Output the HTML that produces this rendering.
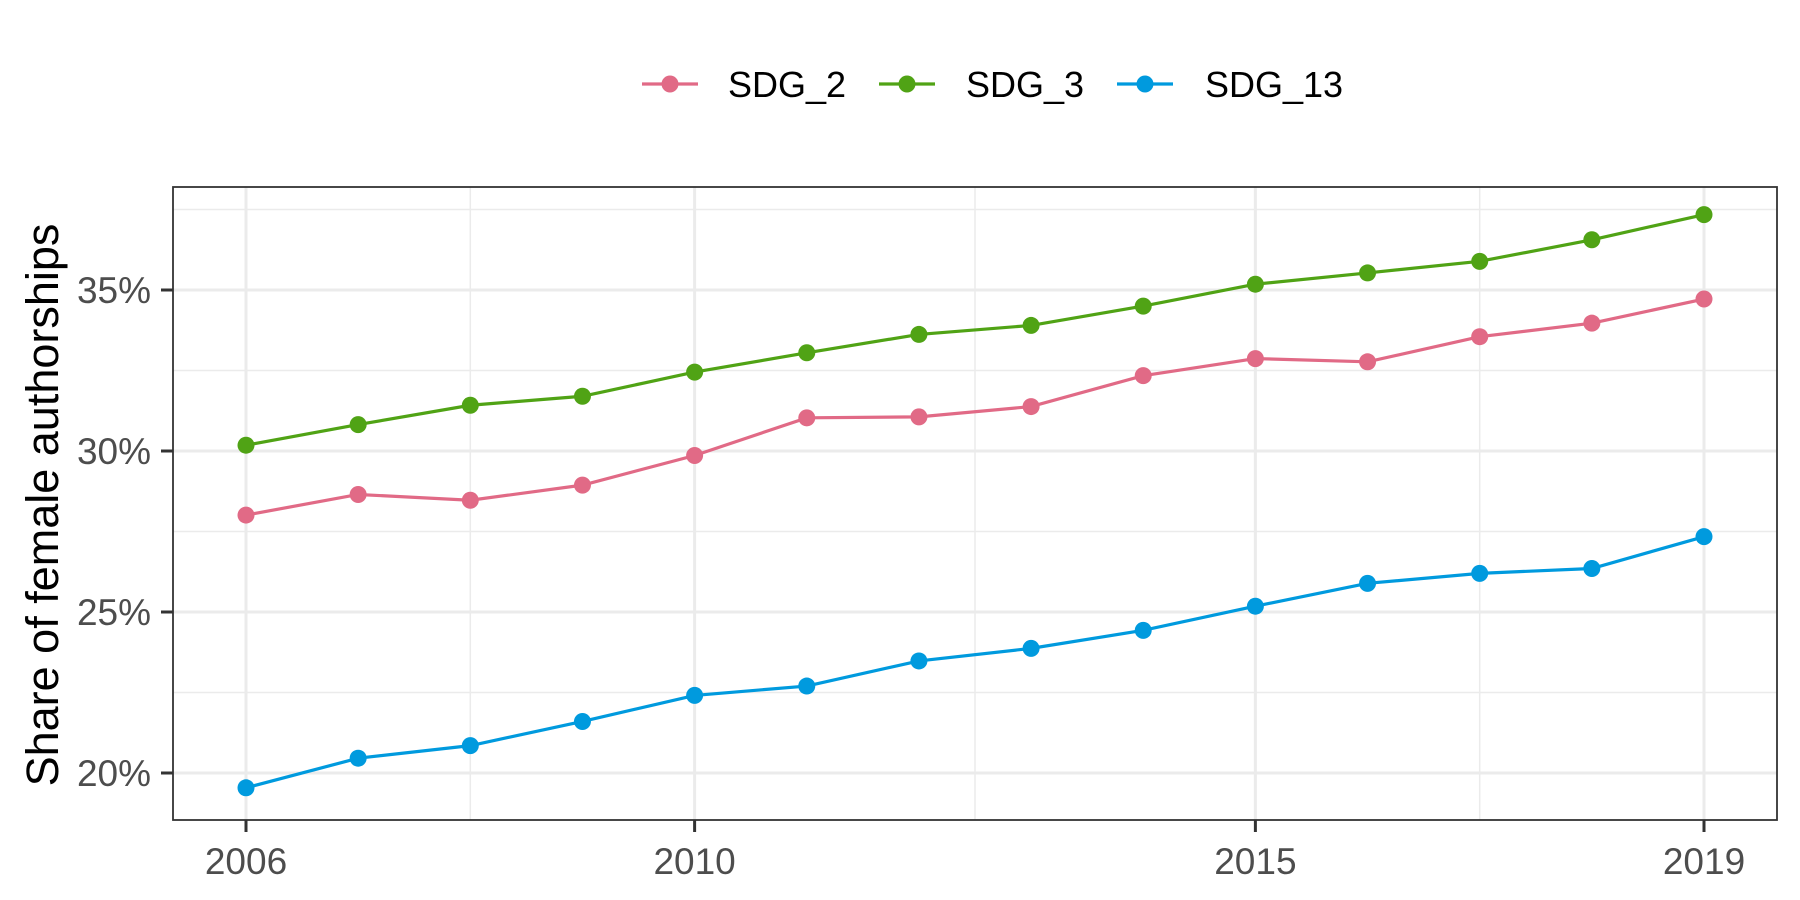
<!DOCTYPE html>
<html><head><meta charset="utf-8"><style>
body{margin:0;background:#fff}
svg{display:block;font-family:"Liberation Sans",Arial,sans-serif}
</style></head><body>
<svg id="chart" width="1800" height="900" viewBox="0 0 1800 900">
<rect width="1800" height="900" fill="#fff"/>
<g id="grid"></g><g id="series"></g><g id="axes"></g><g id="legend"></g>
<text transform="translate(58,505) rotate(-90)" text-anchor="middle" font-size="45" fill="#000">Share of female authorships</text>
</svg>
<script>
const years=[2006,2007,2008,2009,2010,2011,2012,2013,2014,2015,2016,2017,2018,2019];
const seriesNames=["SDG_2","SDG_3","SDG_13"];
const sdg2=[28.01,28.65,28.47,28.94,29.86,31.03,31.06,31.38,32.34,32.87,32.77,33.55,33.97,34.72];
const sdg3=[30.18,30.82,31.42,31.70,32.45,33.05,33.62,33.90,34.50,35.18,35.53,35.89,36.56,37.34];
const sdg13=[19.54,20.46,20.85,21.60,22.41,22.70,23.48,23.87,24.43,25.18,25.89,26.20,26.35,27.34];
const xTicks=[2006,2010,2015,2019];
const xMinor=[2008,2012.5,2017];
const yTicks=[20,25,30,35];
const yMinor=[22.5,27.5,32.5,37.5];
const colors=["#e16a86","#50a315","#009ade"];
const NS="http://www.w3.org/2000/svg";
const L=173,R=1777,T=187,B=820;
const x=v=>246+(v-2006)*(1704-246)/13;
const y=v=>451-(v-30)*161/5;
function mk(tag,attrs,parent){const e=document.createElementNS(NS,tag);for(const k in attrs)e.setAttribute(k,attrs[k]);parent.appendChild(e);return e;}
const grid=document.getElementById('grid'),ser=document.getElementById('series'),ax=document.getElementById('axes'),leg=document.getElementById('legend');
yMinor.forEach(v=>{const e=mk('line',{x1:L,x2:R,y1:y(v),y2:y(v),stroke:'#ebebeb','stroke-width':1.5},grid);

});
xMinor.forEach(v=>{const e=mk('line',{x1:x(v),x2:x(v),y1:T,y2:B,stroke:'#ebebeb','stroke-width':1.5},grid);

});
yTicks.forEach(v=>{const e=mk('line',{x1:L,x2:R,y1:y(v),y2:y(v),stroke:'#ebebeb','stroke-width':3},grid);


const t=mk('line',{x1:L-12,x2:L,y1:y(v),y2:y(v),stroke:'#333','stroke-width':3},ax);


const l=mk('text',{x:L-22,y:y(v)+13,'text-anchor':'end','font-size':37,fill:'#4d4d4d'},ax);l.textContent=v+'%';

});
xTicks.forEach(v=>{const e=mk('line',{x1:x(v),x2:x(v),y1:T,y2:B,stroke:'#ebebeb','stroke-width':3},grid);


const t=mk('line',{x1:x(v),x2:x(v),y1:B,y2:B+12,stroke:'#333','stroke-width':3},ax);


const l=mk('text',{x:x(v),y:B+54,'text-anchor':'middle','font-size':37,fill:'#4d4d4d'},ax);l.textContent=v;

});
const fr=mk('rect',{x:L,y:T,width:R-L,height:B-T,fill:'none',stroke:'#333','stroke-width':1.8},ax);


[sdg2,sdg3,sdg13].forEach((d,i)=>{
const g=mk('g',{},ser);


const p=mk('polyline',{points:d.map((v,j)=>x(years[j])+','+y(v)).join(' '),fill:'none',stroke:colors[i],'stroke-width':3.2},g);


d.forEach((v,j)=>{const c=mk('circle',{cx:x(years[j]),cy:y(v),r:8.5,fill:colors[i]},g);

});
});
const keyX=[642,879,1117],txtX=[728,966,1205],ly=84;
seriesNames.forEach((n,i)=>{
const g=mk('g',{},leg);


mk('line',{x1:keyX[i],x2:keyX[i]+56,y1:ly,y2:ly,stroke:colors[i],'stroke-width':3.2},g);
mk('circle',{cx:keyX[i]+28,cy:ly,r:8.5,fill:colors[i]},g);
const t=mk('text',{x:txtX[i],y:ly+13,'font-size':36,fill:'#000'},g);t.textContent=n;
});
</script>
</body></html>
